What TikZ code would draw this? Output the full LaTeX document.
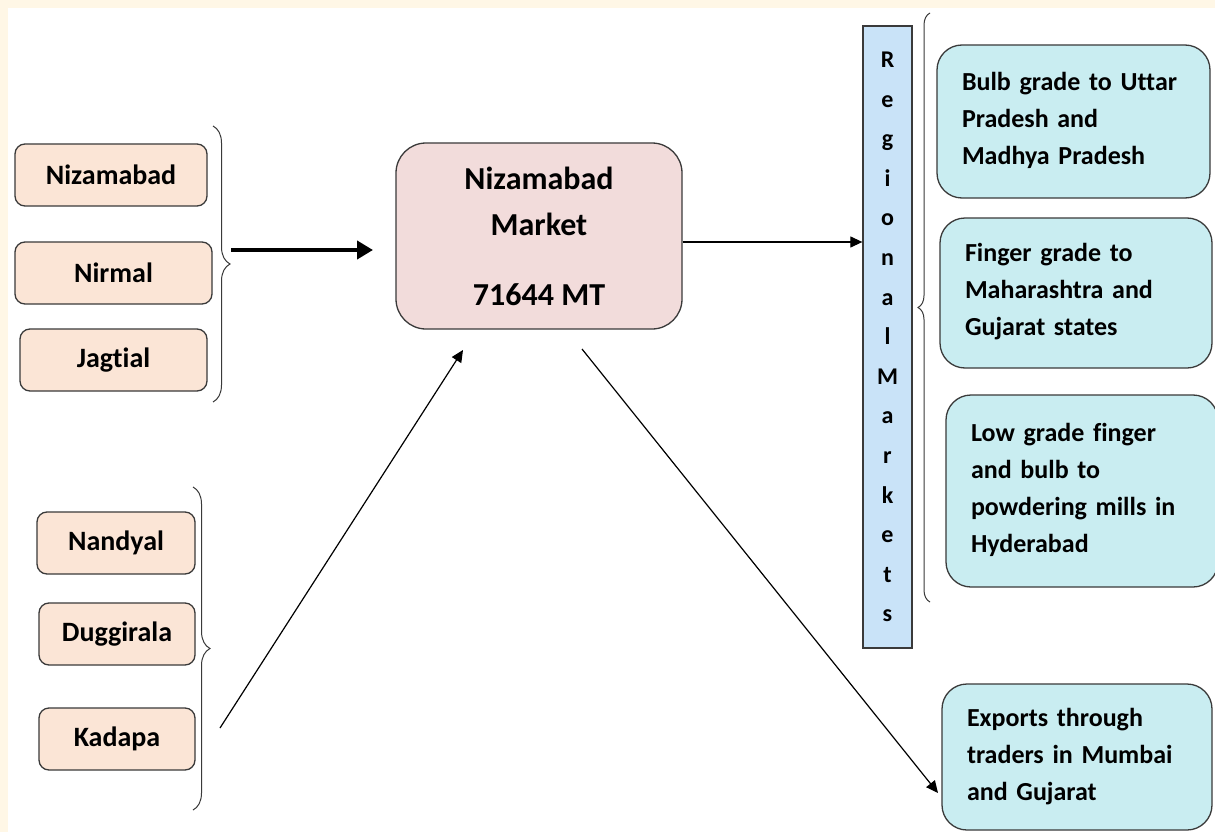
\documentclass[tikz,border=0pt]{standalone}
\usepackage{fontspec}
\setmainfont{Carlito}[Ligatures=NoCommon]
\usetikzlibrary{arrows.meta,decorations.pathreplacing}
\definecolor{cream}{HTML}{FFF7E6}
\definecolor{peach}{HTML}{FBE5D6}
\definecolor{rose}{HTML}{F2DCDB}
\definecolor{aqua}{HTML}{C9EDF1}
\definecolor{skyblue}{HTML}{C9E3F8}
\definecolor{edge}{HTML}{3A3A3A}

\begin{document}
\begin{tikzpicture}[x=1pt,y=-1pt,
  srcbox/.style={draw=edge, line width=1.3pt, fill=peach, rounded corners=10pt,
    font=\fontsize{28}{32}\selectfont\bfseries, inner sep=0pt},
  mktbox/.style={draw=edge, line width=1.3pt, fill=rose, rounded corners=30pt,
    font=\fontsize{32}{46}\selectfont\bfseries, align=center, inner sep=0pt},
  barbox/.style={draw=edge, line width=1.3pt, fill=skyblue,
    font=\fontsize{24}{39.6}\selectfont\bfseries, align=center, inner sep=0pt},
  destbox/.style={draw=edge, line width=1.3pt, fill=aqua, rounded corners=25pt,
    font=\fontsize{26}{37}\selectfont\bfseries, align=left, inner ysep=0pt, inner xsep=25pt},
  flow/.style={line width=1.2pt, -{Triangle[length=12pt,width=11pt]}},
  bigflow/.style={line width=4pt, -{Triangle[length=16pt,width=18pt]}},
  brc/.style={draw=edge, line width=1pt, decorate, decoration={brace, amplitude=#1}},
  brc/.default=17pt]

% page and frame
\useasboundingbox (0,0) rectangle (1215,832);
\fill[cream] (0,0) rectangle (1215,832);
\fill[white] (8,8) rectangle (1216,833);

% producing markets
\node[srcbox, minimum width=192pt, minimum height=62pt] (niz) at (111,175) {Nizamabad};
\node[srcbox, minimum width=197pt, minimum height=62pt] (nir) at (113.5,273) {Nirmal};
\node[srcbox, minimum width=187pt, minimum height=62pt] (jag) at (113.5,360) {Jagtial};
\node[srcbox, minimum width=158pt, minimum height=62pt] (nan) at (116,543) {Nandyal};
\node[srcbox, minimum width=156pt, minimum height=62pt] (dug) at (117,634) {Duggirala};
\node[srcbox, minimum width=156pt, minimum height=62pt] (kad) at (117,739) {Kadapa};

% central market
\node[mktbox, minimum width=286pt, minimum height=186pt] (mkt) at (539,236)
  {Nizamabad\\Market\\[24pt]71644 MT};

% regional markets bar
\node[barbox, minimum width=49pt, minimum height=622pt] (bar) at (887.5,337)
  {R\\e\\g\\i\\o\\n\\a\\l\\M\\a\\r\\k\\e\\t\\s};

% destinations (text raised slightly above the box centre)
\node[destbox, minimum width=273pt, minimum height=153pt, text width=223pt] (d1) at (1073.5,121.5)
  {Bulb grade to Uttar\\Pradesh and\\Madhya Pradesh\\[-30pt]\mbox{}};
\node[destbox, minimum width=272pt, minimum height=150pt, text width=222pt] (d2) at (1076,293)
  {Finger grade to\\Maharashtra and\\Gujarat states\\[-30pt]\mbox{}};
\node[destbox, minimum width=272pt, minimum height=192pt, text width=222pt] (d3) at (1082,491)
  {Low grade finger\\and bulb to\\powdering mills in\\Hyderabad\\[-30pt]\mbox{}};
\node[destbox, minimum width=270pt, minimum height=146pt, text width=220pt] (d4) at (1077,757)
  {Exports through\\traders in Mumbai\\and Gujarat};

% braces grouping the boxes
\draw[brc] (213,126) -- (213,402);
\draw[brc] (193,487) -- (193,810);
\draw[brc=12pt] (930,602) -- (930,13);

% flow connectors
\coordinate (northgrp) at (231,250);
\coordinate (mktleft) at (373,250);
\coordinate (southgrp) at (220,728);
\coordinate (mktbelow) at (463,350);
\coordinate (mktout) at (582,349);
\coordinate (exportin) at (938,793);

\draw[bigflow] (northgrp) -- (mktleft);
\draw[flow] ([yshift=-6pt]mkt.east) -- ([yshift=-6pt]mkt.east -| bar.west);
\draw[flow] (southgrp) -- (mktbelow);
\draw[flow] (mktout) -- (exportin);
\end{tikzpicture}
\end{document}
